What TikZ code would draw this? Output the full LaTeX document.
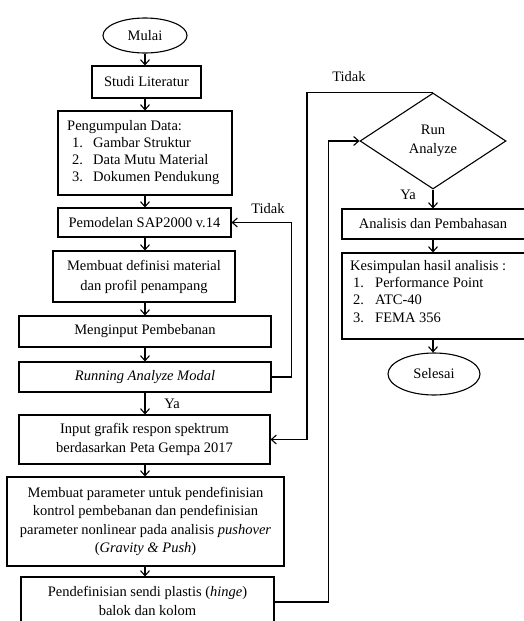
\documentclass[tikz,border=0pt]{standalone}
\usepackage{fontspec}
\setmainfont{Liberation Serif}
\usetikzlibrary{shapes.geometric,arrows.meta}
\begin{document}
\begin{tikzpicture}[x=1pt,y=-1pt,
  every node/.style={font=\fontsize{14.5}{18.5}\selectfont},
  box/.style={draw,rectangle,line width=1.1pt,inner sep=0pt,align=center},
  term/.style={draw,ellipse,line width=1.1pt,inner sep=0pt},
  arr/.style={line width=1.1pt,-{Straight Barb[length=5pt,width=9pt]}},
  lbl/.style={inner sep=0pt,align=left}]
\clip (0,0) rectangle (524,621);
\useasboundingbox (0,0) rectangle (524,621);
\fill[white] (0,0) rectangle (524,621);
% left column
\node[term,minimum width=84pt,minimum height=35pt] (mulai) at (145,35.5) {Mulai};
\node[box,minimum width=109pt,minimum height=32pt] (studi) at (146.5,82) {Studi Literatur};
\node[box,minimum width=174pt,minimum height=84pt] (data) at (145,153) {};
\node[lbl,anchor=north west,font=\fontsize{14.5}{17}\selectfont] (datatext) at (67,120)
  {Pengumpulan Data:\\\hspace*{5pt}\makebox[21pt][l]{1.}Gambar Struktur\\\hspace*{5pt}\makebox[21pt][l]{2.}Data Mutu Material\\\hspace*{5pt}\makebox[21pt][l]{3.}Dokumen Pendukung};
\node[box,minimum width=173pt,minimum height=29pt] (pemod) at (144.5,222.5) {Pemodelan SAP2000 v.14};
\node[box,minimum width=182pt,minimum height=51pt,font=\fontsize{14.5}{20}\selectfont] (def) at (144,276.5) {Membuat definisi material\\dan profil penampang};
\node[box,minimum width=252pt,minimum height=31pt] (beban) at (145,331.5) {Menginput Pembebanan};
\node[box,minimum width=252pt,minimum height=30pt] (running) at (145,377) {\textit{Running Analyze Modal}};
\node[box,minimum width=251pt,minimum height=49pt] (input) at (144.5,439.5) {Input grafik respon spektrum\\berdasarkan Peta Gempa 2017};
\node[box,minimum width=277pt,minimum height=89pt] (param) at (145.5,521.5) {Membuat parameter untuk pendefinisian\\kontrol pembebanan dan pendefinisian\\parameter nonlinear pada analisis \textit{pushover}\\(\textit{Gravity \& Push})};
\node[box,minimum width=253pt,minimum height=50pt] (sendi) at (147.5,602) {};
\node[inner sep=0pt,align=center] (senditext) at (147.5,601) {Pendefinisian sendi plastis (\textit{hinge})\\balok dan kolom};
% right column
\node[draw,diamond,line width=1.1pt,inner sep=0pt,minimum width=146pt,minimum height=96pt,align=center] (run) at (433,141) {Run\\Analyze};
\node[box,minimum width=188pt,minimum height=30pt] (anal) at (436,224) {};
\node[inner sep=0pt] (analtext) at (433,224) {Analisis dan Pembahasan};
\node[box,minimum width=188pt,minimum height=86pt] (kes) at (436,296) {};
\node[lbl,anchor=north west,font=\fontsize{14.5}{17.3}\selectfont] (kestext) at (350,260)
  {Kesimpulan hasil analisis :\\\hspace*{3pt}\makebox[22pt][l]{1.}Performance Point\\\hspace*{3pt}\makebox[22pt][l]{2.}ATC-40\\\hspace*{3pt}\makebox[22pt][l]{3.}FEMA 356};
\node[term,minimum width=92pt,minimum height=42pt] (selesai) at (434,374) {Selesai};
% labels
\node[inner sep=0pt] (tidak1) at (268,209) {Tidak};
\node[inner sep=0pt] (ya1) at (172,404) {Ya};
\node[inner sep=0pt] (tidak2) at (349,77) {Tidak};
\node[inner sep=0pt] (ya2) at (408,195) {Ya};
% connectors
\draw[arr] (mulai.south) -- (mulai.south |- studi.north);
\draw[arr] (mulai.south |- studi.south) -- (mulai.south |- data.north);
\draw[arr] (mulai.south |- data.south) -- (mulai.south |- pemod.north);
\draw[arr] (mulai.south |- pemod.south) -- (mulai.south |- def.north);
\draw[arr] (mulai.south |- def.south) -- (mulai.south |- beban.north);
\draw[arr] (mulai.south |- beban.south) -- (mulai.south |- running.north);
\draw[arr] (mulai.south |- running.south) -- (mulai.south |- input.north);
\draw[arr] (mulai.south |- input.south) -- (mulai.south |- param.north);
\draw[arr] (mulai.south |- param.south) -- (mulai.south |- sendi.north);
\draw[arr] (running.east) -- ++(20,0) |- (pemod.east);
\draw[arr] (sendi.east) -- ++(54,0) |- (run.west);
\draw[arr] (run.north) -- ++(-126,0) |- (input.east);
\draw[arr] (run.south) -- (run.south |- anal.north);
\draw[arr] (run.south |- anal.south) -- (run.south |- kes.north);
\draw[arr] (run.south |- kes.south) -- (run.south |- selesai.north);
\end{tikzpicture}
\end{document}
